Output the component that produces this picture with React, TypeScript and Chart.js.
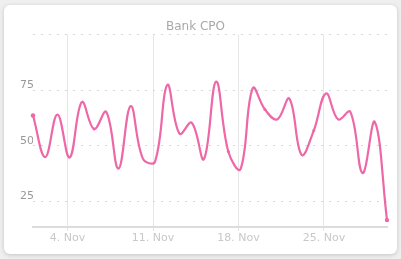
import React, { useEffect, useRef } from "react";
import { Chart, registerables } from "chart.js";

Chart.register(...registerables);

const TITLE = "Bank CPO";
const MONTH = "Nov";
const HOUR_OFFSET = 4; // data timestamped at 04:00 each day
const DAYS = [
  1, 2, 3, 4, 5, 6, 7, 8, 9, 10, 11, 12, 13, 14, 15, 16, 17, 18, 19, 20, 21, 22,
  23, 24, 25, 26, 27, 28, 29, 30,
];
const VALUES = [
  63.6, 44.9, 64.0, 44.7, 69.6, 57.5, 65.2, 39.7, 67.8, 44.2, 42.9, 77.3, 55.4,
  60.3, 44.0, 78.8, 47.4, 39.5, 75.8, 66.3, 61.8, 71.1, 45.9, 56.8, 73.5, 61.8,
  65.2, 37.7, 60.7, 16.6,
];
const X_TICKS = [4, 11, 18, 25];
const Y_TICKS = [25, 50, 75, 100];
const Y_LABELLED = [25, 50, 75];
const MARKED_DAYS = [1, 6, 17, 20, 24, 30];

export default function App() {
  const ref = useRef<HTMLCanvasElement | null>(null);

  useEffect(() => {
    if (!ref.current) return;
    const data = DAYS.map((d, i) => ({ x: d + HOUR_OFFSET / 24, y: VALUES[i] }));
    const chart = new Chart(ref.current, {
      type: "line",
      data: {
        datasets: [
          {
            data,
            borderColor: "#ee67a6",
            backgroundColor: "#ee67a6",
            borderWidth: 2.2,
            tension: 0.4,
            pointRadius: DAYS.map((d) =>
              d === DAYS[0] || d === DAYS[DAYS.length - 1] ? 2.2 : MARKED_DAYS.includes(d) ? 1.5 : 0
            ),
            pointBorderWidth: 0,
            clip: false as any,
          },
        ],
      },
      options: {
        animation: false,
        responsive: false,
        maintainAspectRatio: false,
        layout: { padding: { left: 0, right: 10, top: 0, bottom: 0 } },
        plugins: {
          legend: { display: false },
          tooltip: { enabled: false },
          title: {
            display: true,
            text: TITLE,
            color: "#a8a8a8",
            font: { family: "'DejaVu Sans', sans-serif", size: 12, weight: "normal" },
            padding: { top: 15, bottom: 0 },
          },
        },
        scales: {
          x: {
            type: "linear",
            min: DAYS[0] + HOUR_OFFSET / 24,
            max: DAYS[DAYS.length - 1] + HOUR_OFFSET / 24,
            afterBuildTicks: (scale: any) => {
              scale.ticks = X_TICKS.map((v) => ({ value: v }));
            },
            afterFit: (scale: any) => {
              scale.height = 27;
            },
            ticks: {
              autoSkip: false,
              maxRotation: 0,
              color: "#c8c8c8",
              padding: 1,
              font: { family: "'DejaVu Sans', sans-serif", size: 11 },
              callback: (v: any) => `${v}. ${MONTH}`,
            },
            grid: {
              color: "#e6e6e6",
              lineWidth: 1,
              drawTicks: true,
              tickLength: 4,
            },
            border: { display: true, color: "#dcdcdc", width: 2 },
          },
          y: {
            type: "linear",
            min: 13.5,
            max: 100,
            afterBuildTicks: (scale: any) => {
              scale.ticks = Y_TICKS.map((v) => ({ value: v }));
            },
            afterFit: (scale: any) => {
              scale.width = 29;
            },
            ticks: {
              color: "#999999",
              padding: -1,
              labelOffset: -5,
              font: { family: "'DejaVu Sans', sans-serif", size: 11 },
              callback: (v: any) => (Y_LABELLED.includes(v) ? String(v) : ""),
            },
            grid: {
              color: "#d8d8d8",
              lineWidth: 1,
              drawTicks: false,
            },
            border: { display: false, dash: [2, 6] },
          },
        },
      },
    });
    return () => chart.destroy();
  }, []);

  return (
    <div
      style={{
        position: "fixed",
        left: 0,
        top: 0,
        width: 401,
        height: 259,
        background: "#efefef",
      }}
    >
      <div
        style={{
          position: "absolute",
          left: 4,
          top: 5,
          width: 393,
          height: 249,
          background: "#ffffff",
          borderRadius: 6,
          boxShadow: "0 1px 4px rgba(0,0,0,0.18)",
          overflow: "hidden",
        }}
      >
        <canvas ref={ref} width={393} height={249} style={{ display: "block" }} />
      </div>
    </div>
  );
}
